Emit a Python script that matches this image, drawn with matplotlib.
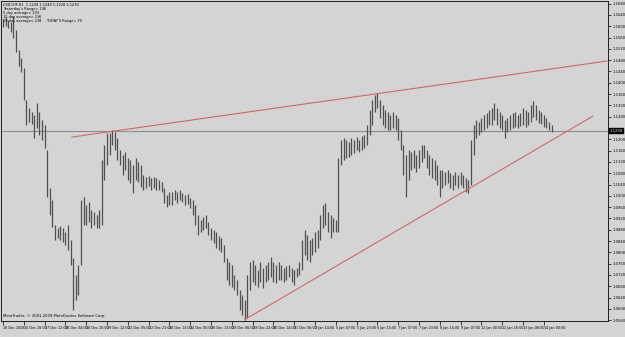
import matplotlib
matplotlib.use("Agg")
import matplotlib.pyplot as plt
import numpy as np

# USDCHF H1 - bars (high / low), left to right
highs = [
    1.1626, 1.1633, 1.1622, 1.1615, 1.1636, 1.1587, 1.1516, 1.1488, 1.1453, 1.1340,
    1.1311, 1.1297, 1.1287, 1.1329, 1.1297, 1.1269, 1.1251, 1.1163, 1.1029, 1.0986,
    1.0898, 1.0887, 1.0894, 1.0887, 1.0873, 1.0898, 1.0845, 1.0781, 1.0721, 1.0756,
    1.0986, 1.0997, 1.0969, 1.0979, 1.0951, 1.0944, 1.0933, 1.0951, 1.1128, 1.1181,
    1.1223, 1.1223, 1.1234, 1.1227, 1.1205, 1.1163, 1.1145, 1.1156, 1.1135, 1.1128,
    1.1110, 1.1135, 1.1120, 1.1110, 1.1075, 1.1067, 1.1071, 1.1064, 1.1067, 1.1064,
    1.1057, 1.1050, 1.1029, 1.1004, 1.1014, 1.1014, 1.1022, 1.1014, 1.1022, 1.1011,
    1.1004, 1.1007, 1.0993, 1.0986, 1.0969, 1.0933, 1.0916, 1.0926, 1.0933, 1.0908,
    1.0887, 1.0880, 1.0873, 1.0859, 1.0852, 1.0827, 1.0781, 1.0767, 1.0756, 1.0721,
    1.0703, 1.0668, 1.0650, 1.0633, 1.0721, 1.0767, 1.0774, 1.0756, 1.0739, 1.0767,
    1.0746, 1.0756, 1.0767, 1.0785, 1.0767, 1.0756, 1.0767, 1.0756, 1.0746, 1.0753,
    1.0756, 1.0746, 1.0739, 1.0746, 1.0767, 1.0845, 1.0880, 1.0863, 1.0845, 1.0852,
    1.0873, 1.0880, 1.0933, 1.0969, 1.0976, 1.0944, 1.0933, 1.0923, 1.0916, 1.1135,
    1.1198, 1.1205, 1.1198, 1.1191, 1.1205, 1.1198, 1.1209, 1.1198, 1.1212, 1.1216,
    1.1251, 1.1304, 1.1340, 1.1357, 1.1364, 1.1340, 1.1322, 1.1304, 1.1297, 1.1287,
    1.1297, 1.1287, 1.1276, 1.1234, 1.1181, 1.1145, 1.1163, 1.1156, 1.1163, 1.1145,
    1.1163, 1.1181, 1.1181, 1.1163, 1.1145, 1.1135, 1.1128, 1.1110, 1.1092, 1.1092,
    1.1085, 1.1092, 1.1082, 1.1075, 1.1085, 1.1075, 1.1085, 1.1075, 1.1064, 1.1057,
    1.1198, 1.1251, 1.1269, 1.1262, 1.1276, 1.1287, 1.1294, 1.1304, 1.1311, 1.1329,
    1.1311, 1.1297, 1.1287, 1.1269, 1.1276, 1.1287, 1.1294, 1.1297, 1.1287, 1.1294,
    1.1311, 1.1304, 1.1297, 1.1322, 1.1336, 1.1322, 1.1304, 1.1297, 1.1287, 1.1276,
    1.1262, 1.1251,
]
lows = [
    1.1598, 1.1601, 1.1594, 1.1580, 1.1559, 1.1509, 1.1460, 1.1439, 1.1340, 1.1251,
    1.1262, 1.1255, 1.1205, 1.1241, 1.1216, 1.1198, 1.1170, 1.0997, 1.0933, 1.0891,
    1.0845, 1.0852, 1.0845, 1.0838, 1.0827, 1.0809, 1.0756, 1.0597, 1.0633, 1.0650,
    1.0756, 1.0898, 1.0898, 1.0908, 1.0887, 1.0898, 1.0887, 1.0887, 1.0898, 1.1057,
    1.1110, 1.1145, 1.1181, 1.1163, 1.1128, 1.1110, 1.1075, 1.1092, 1.1057, 1.1046,
    1.1011, 1.1057, 1.1050, 1.1032, 1.1022, 1.1029, 1.1036, 1.1022, 1.1029, 1.1022,
    1.1022, 1.1014, 1.0976, 1.0961, 1.0969, 1.0969, 1.0986, 1.0976, 1.0986, 1.0979,
    1.0969, 1.0972, 1.0958, 1.0933, 1.0898, 1.0863, 1.0873, 1.0880, 1.0887, 1.0863,
    1.0845, 1.0834, 1.0817, 1.0809, 1.0802, 1.0767, 1.0703, 1.0686, 1.0679, 1.0668,
    1.0650, 1.0597, 1.0580, 1.0562, 1.0569, 1.0668, 1.0696, 1.0686, 1.0679, 1.0696,
    1.0675, 1.0696, 1.0703, 1.0711, 1.0696, 1.0693, 1.0703, 1.0703, 1.0696, 1.0703,
    1.0711, 1.0696, 1.0686, 1.0711, 1.0721, 1.0739, 1.0792, 1.0774, 1.0767, 1.0792,
    1.0802, 1.0817, 1.0845, 1.0887, 1.0898, 1.0873, 1.0852, 1.0873, 1.0873, 1.0873,
    1.1110, 1.1128, 1.1135, 1.1138, 1.1145, 1.1152, 1.1163, 1.1156, 1.1163, 1.1170,
    1.1181, 1.1216, 1.1251, 1.1297, 1.1311, 1.1276, 1.1251, 1.1241, 1.1234, 1.1234,
    1.1241, 1.1234, 1.1198, 1.1163, 1.1075, 1.0997, 1.1057, 1.1092, 1.1099, 1.1085,
    1.1099, 1.1120, 1.1135, 1.1099, 1.1075, 1.1064, 1.1057, 1.1039, 1.0997, 1.1029,
    1.1039, 1.1046, 1.1029, 1.1022, 1.1039, 1.1029, 1.1039, 1.1029, 1.1014, 1.1011,
    1.1039, 1.1145, 1.1205, 1.1216, 1.1227, 1.1234, 1.1241, 1.1251, 1.1251, 1.1269,
    1.1251, 1.1241, 1.1234, 1.1205, 1.1227, 1.1234, 1.1241, 1.1244, 1.1241, 1.1248,
    1.1251, 1.1244, 1.1251, 1.1262, 1.1280, 1.1269, 1.1258, 1.1255, 1.1244, 1.1241,
    1.1234, 1.1227,
]

last_price = 1.1230

# trendlines drawn on the chart: (bar index, price) at both ends
upper_line_x = [26.5, 232.3]
upper_line_y = [1.1208, 1.1477]
lower_line_x = [93.0, 226.9]
lower_line_y = [1.0562, 1.1282]

date_labels = [
    "16 Dec 2008", "16 Dec 20:00", "17 Dec 12:00", "18 Dec 04:00", "18 Dec 20:00",
    "19 Dec 12:00", "22 Dec 05:00", "22 Dec 21:00", "23 Dec 13:00", "24 Dec 05:00",
    "26 Dec 13:00", "29 Dec 06:00", "29 Dec 22:00", "30 Dec 14:00", "31 Dec 06:00",
    "2 Jan 14:00", "5 Jan 07:00", "5 Jan 23:00", "6 Jan 15:00", "7 Jan 07:00",
    "7 Jan 23:00", "8 Jan 15:00", "9 Jan 07:00", "12 Jan 00:00", "12 Jan 16:00",
    "13 Jan 08:00", "14 Jan 00:00",
]
bars_per_label = 8

info_lines = [
    "USDCHF,H1  1.1249 1.1249 1.1228 1.1230",
    "Yesterday's Range= 146",
    "5 day average= 203",
    "10 day average= 236",
    "20 day average= 238",
]
today_range = "TODAY'S Range= 70"

price_ticks = np.round(1.1680 - 0.0040 * np.arange(29), 4)

bg = "#d4d4d4"
fig = plt.figure(figsize=(6.25, 3.37), dpi=100, facecolor=bg)
ax = fig.add_axes([1 / 625, 16 / 337, 607 / 625, 320 / 337], facecolor=bg)

idx = np.arange(len(highs))
ax.vlines(idx, lows, highs, color="#505050", lw=0.9)

ax.axhline(last_price, color="#8c8c8c", lw=0.8, zorder=1)
ax.plot(upper_line_x, upper_line_y, color="#cc6a6a", lw=0.8)
ax.plot(lower_line_x, lower_line_y, color="#cc6a6a", lw=0.8)

ax.set_xlim(-0.77, 232.7)
ax.set_ylim(1.0557, 1.16895)

# price scale on the right
ax.yaxis.tick_right()
shown = [p for p in price_ticks if abs(p - last_price) > 0.0018]
ax.set_yticks(shown)
ax.set_yticklabels([f"{p:.4f}" for p in shown])
ax.tick_params(axis="y", length=2, width=0.5, pad=1, labelsize=2.7, colors="black")
ax.text(1.002, last_price, f"{last_price:.4f}", transform=ax.get_yaxis_transform(),
        fontsize=2.7, color="white", va="center", ha="left",
        bbox=dict(boxstyle="square,pad=0.15", fc="black", ec="black"))

# time scale at the bottom
xt = idx[::bars_per_label][:len(date_labels)]
ax.set_xticks(xt)
ax.set_xticklabels(date_labels[:len(xt)], ha="left")
ax.tick_params(axis="x", length=3, width=0.5, pad=0.5, labelsize=2.4, colors="black")

for s in ax.spines.values():
    s.set_linewidth(0.7)
    s.set_color("#202020")

for k, line in enumerate(info_lines):
    ax.text(2 / 607, 1 - (2 + 3.9 * k) / 320, line, transform=ax.transAxes,
            fontsize=2.5, va="top", ha="left", color="black")
ax.text(45 / 607, 1 - 17.6 / 320, today_range, transform=ax.transAxes,
        fontsize=2.5, va="top", ha="left", color="black")
ax.text(2 / 607, 3 / 320, "MetaTrader, \u00a9 2001-2009 MetaQuotes Software Corp.",
        transform=ax.transAxes, fontsize=2.7, va="bottom", ha="left", color="black")

fig.savefig("out.png", dpi=100, facecolor=bg)
